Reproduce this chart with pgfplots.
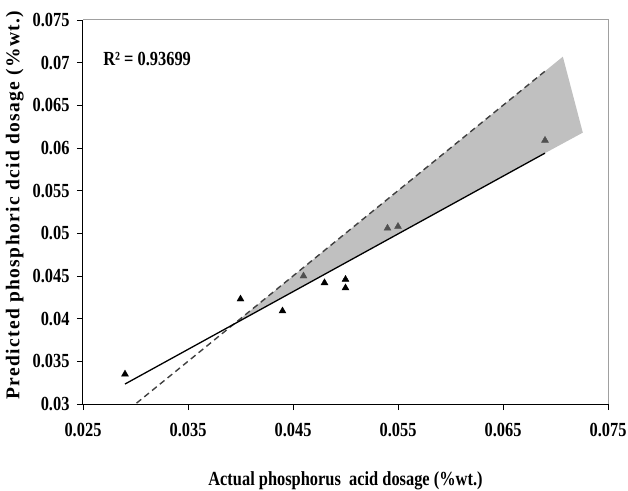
\documentclass[border=0pt]{standalone}
\usepackage{fontspec}
\setmainfont{Liberation Serif}[FakeStretch=0.82]
\newfontfamily\ylabfont{Liberation Serif}[LetterSpace=7]
\usepackage{pgfplots}
\pgfplotsset{compat=1.18}
\definecolor{areagray}{HTML}{C0C0C0}
\definecolor{framegray}{HTML}{A0A0A0}
\definecolor{dashgray}{HTML}{404040}
\definecolor{ptgray}{HTML}{505050}
\begin{document}
\begin{tikzpicture}
\path[use as bounding box] (-83pt,-86pt) rectangle (545pt,404pt);
\begin{axis}[
  at={(0,0)}, anchor=south west,
  scale only axis, width=525pt, height=384pt,
  xmin=0.025, xmax=0.075, ymin=0.03, ymax=0.075,
  axis x line*=bottom, axis y line*=left,
  axis line style={black, line width=1pt},
  xtick={0.025,0.035,0.045,0.055,0.065,0.075},
  ytick={0.03,0.035,0.04,0.045,0.05,0.055,0.06,0.065,0.07,0.075},
  scaled ticks=false,
  tick align=outside, major tick length=6pt,
  tick style={black, line width=0.8pt},
  /pgf/number format/assume math mode=true,
  /pgf/number format/fixed, /pgf/number format/precision=3,
  ticklabel style={font=\fontsize{20}{22}\selectfont\bfseries},
  xticklabel style={yshift=-10pt},
  yticklabel style={xshift=-4pt},
  xlabel={Actual phosphorus\ \ acid dosage (\%wt.)},
  ylabel={Predicted phosphoric dcid dosage (\%wt.)},
  xlabel style={at={(axis description cs:0.5,-0.2)}, anchor=center, font=\fontsize{20}{22}\selectfont\bfseries},
  ylabel style={at={(axis description cs:-0.13,0.518)}, anchor=center, font=\fontsize{19.5}{22}\selectfont\bfseries\ylabfont},
  clip=false,
]
\addplot[fill=areagray, draw=none] coordinates {(0.0394,0.0394) (0.0707,0.0707) (0.0726,0.0618) (0.069,0.0594)} -- cycle;
\addplot[dashgray, line width=1.4pt, dash pattern=on 6pt off 4pt] coordinates {(0.0301,0.0301) (0.069,0.069)};
\addplot[black, line width=1.3pt] coordinates {(0.029,0.03234) (0.069,0.0594)};
\addplot[only marks, mark=triangle*, mark size=4pt, black] coordinates {
(0.029,0.0335) (0.040,0.0423) (0.044,0.0409) (0.048,0.0442) (0.050,0.0446) (0.050,0.0436)};
\addplot[only marks, mark=triangle*, mark size=4pt, ptgray] coordinates {
(0.046,0.0450) (0.054,0.0506) (0.055,0.0508) (0.069,0.0609)};
\draw[framegray, line width=1pt] (rel axis cs:0,1) -- (rel axis cs:1,1) -- (rel axis cs:1,0);
\node[anchor=west, font=\fontsize{20}{22}\selectfont\bfseries] at (axis cs:0.0266,0.0704) {R² = 0.93699};
\end{axis}
\end{tikzpicture}
\end{document}
